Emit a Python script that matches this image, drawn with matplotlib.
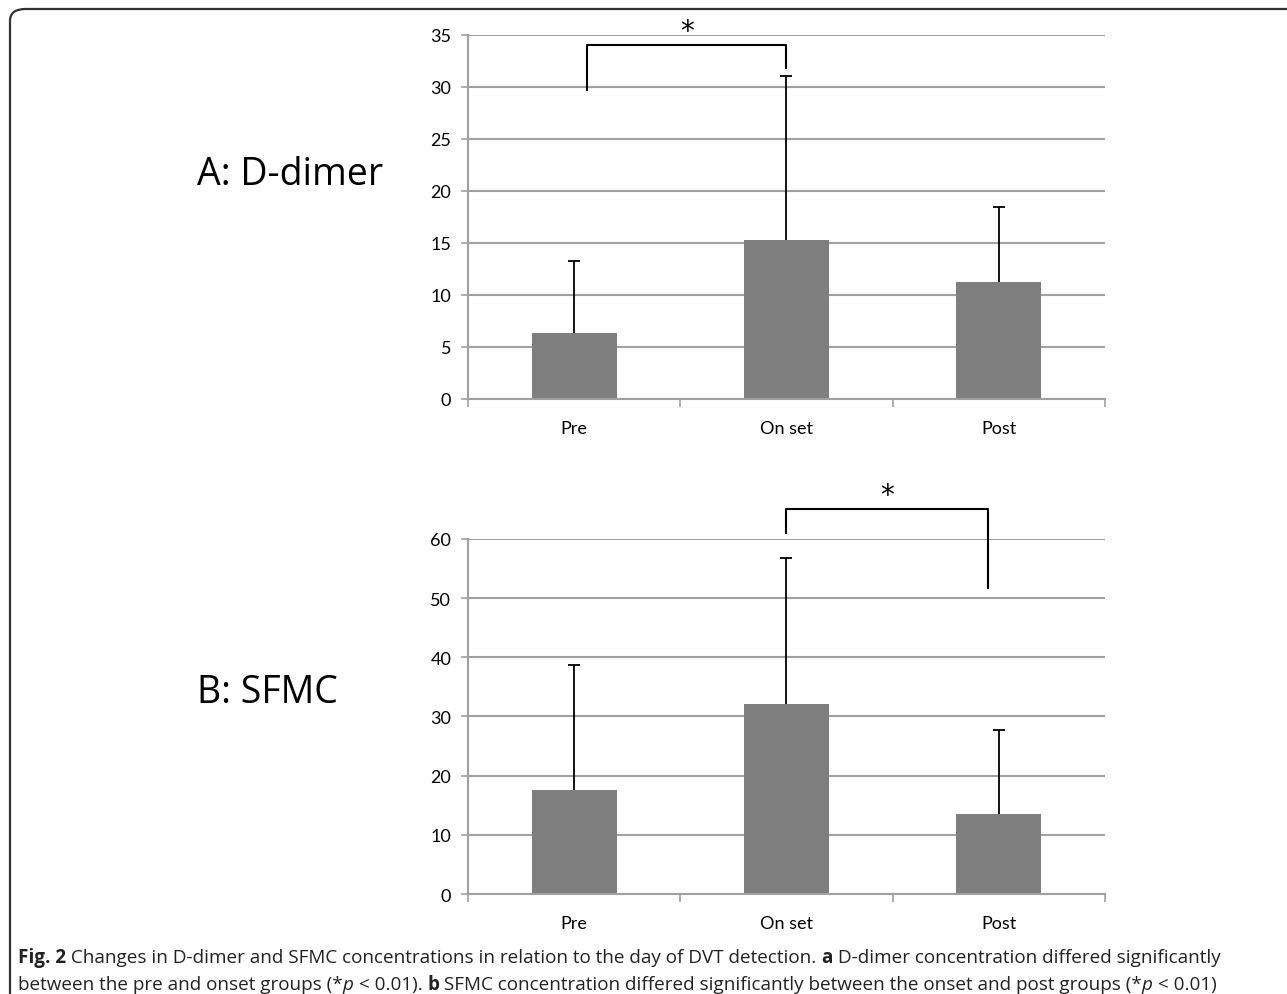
import numpy as np
import matplotlib.pyplot as plt
from matplotlib.patches import FancyBboxPatch

plt.rcParams['font.family'] = ['Lato', 'DejaVu Sans']

groups = ['Pre', 'On set', 'Post']

ddimer_mean = [6.3, 15.3, 11.2]
ddimer_sd = [7.0, 15.7, 7.3]

sfmc_mean = [17.6, 32.1, 13.6]
sfmc_sd = [21.1, 24.7, 14.2]

# significance brackets: x of left leg, x of right leg, top, left leg end, right leg end
ddimer_bracket = [0.06, 1.0, 34.0, 29.7, 31.8]
sfmc_bracket = [1.0, 1.95, 65.0, 61.0, 51.8]

grid_col = '#a0a0a0'
bar_col = '#7f7f7f'


def draw_panel(ax, means, sds, ymax, ystep, bracket):
	x = np.arange(len(groups))
	ax.set_axisbelow(True)
	ax.bar(x, means, width=0.4, color=bar_col, zorder=2)
	eb = ax.errorbar(x, means, yerr=[np.zeros(len(sds)), sds], fmt='none',
					 ecolor='black', elinewidth=1.3, capsize=4, capthick=1.3, zorder=3)
	eb[1][0].set_visible(False)  # only the upper cap

	ax.set_xlim(-0.5, len(groups) - 0.5)
	ax.set_ylim(0, ymax)
	ax.set_yticks(np.arange(0, ymax + 1, ystep))
	ax.yaxis.grid(True, color=grid_col, lw=1.5)
	ax.set_xticks(x)
	ax.set_xticklabels(groups)
	ax.set_xticks(np.arange(-0.5, len(groups)), minor=True)
	ax.tick_params(axis='x', which='major', length=0, pad=15, labelsize=13)
	ax.tick_params(axis='x', which='minor', length=6, width=1.2, color=grid_col)
	ax.tick_params(axis='y', length=5, width=1.2, color=grid_col, pad=7, labelsize=13)

	for s in ['top', 'right']:
		ax.spines[s].set_visible(False)
	for s in ['left', 'bottom']:
		ax.spines[s].set_color(grid_col)
		ax.spines[s].set_linewidth(1.5)

	x0, x1, top, y0, y1 = bracket
	ax.plot([x0, x0, x1, x1], [y0, top, top, y1], color='black', lw=1.5,
			clip_on=False, zorder=4)
	ax.text((x0 + x1) / 2, top, '*', ha='center', va='bottom', fontsize=20,
			fontfamily='DejaVu Sans', clip_on=False)


fig = plt.figure(figsize=(12.87, 9.95), dpi=100)

ax1 = fig.add_axes([0.3636, 0.598, 0.495, 0.366])
draw_panel(ax1, ddimer_mean, ddimer_sd, 35, 5, ddimer_bracket)

ax2 = fig.add_axes([0.3636, 0.1005, 0.495, 0.3568])
draw_panel(ax2, sfmc_mean, sfmc_sd, 60, 10, sfmc_bracket)

label_font = ['Open Sans', 'DejaVu Sans']
fig.text(197 / 1287, 1 - 175 / 995, 'A: D-dimer', fontsize=27, va='center',
		 ha='left', family=label_font)
fig.text(197 / 1287, 1 - 693 / 995, 'B: SFMC', fontsize=27, va='center',
		 ha='left', family=label_font)

# outer frame with rounded corner, open at right and bottom
frame = FancyBboxPatch((10 / 1287, -0.05), 1.1, 1 - 10 / 995 + 0.05,
					   boxstyle='round,pad=0,rounding_size=0.012',
					   transform=fig.transFigure, fill=False,
					   edgecolor='#333333', lw=1.6, clip_on=False)
fig.patches.append(frame)

# caption
cap_font = ['Open Sans', 'DejaVu Sans']
cap_size = 13.6
line1 = [('Fig. 2', 'bold', 'normal'),
		 (' Changes in D-dimer and SFMC concentrations in relation to the day of DVT detection. ', 'normal', 'normal'),
		 ('a', 'bold', 'normal'),
		 (' D-dimer concentration differed significantly', 'normal', 'normal')]
line2 = [('between the pre and onset groups (*', 'normal', 'normal'),
		 ('p', 'normal', 'italic'),
		 (' < 0.01). ', 'normal', 'normal'),
		 ('b', 'bold', 'normal'),
		 (' SFMC concentration differed significantly between the onset and post groups (*', 'normal', 'normal'),
		 ('p', 'normal', 'italic'),
		 (' < 0.01)', 'normal', 'normal')]


def place_line(parts, y):
	renderer = fig.canvas.get_renderer()
	x = 18
	for s, w, st in parts:
		t = fig.text(x / 1287, y, s, fontsize=cap_size, fontweight=w, fontstyle=st,
					 family=cap_font, color='#222222', va='baseline', ha='left')
		x += t.get_window_extent(renderer).width


place_line(line1, 1 - 963 / 995)
place_line(line2, 1 - 990 / 995)

fig.savefig('out.png', dpi=100)
